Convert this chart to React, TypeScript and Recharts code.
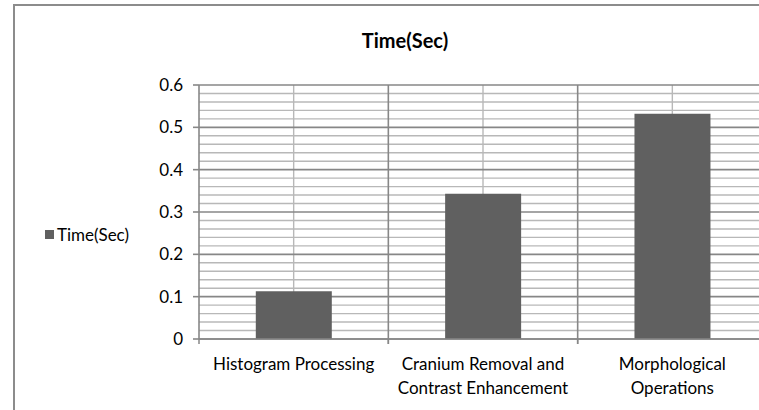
import React from "react";
import { BarChart, Bar, XAxis, YAxis, CartesianGrid } from "recharts";

const categories = [
  "Histogram Processing",
  "Cranium Removal and\nContrast Enhancement",
  "Morphological\nOperations",
];
const times = [0.113, 0.343, 0.532];
const yTicks = [0, 0.1, 0.2, 0.3, 0.4, 0.5, 0.6];
const yMinor = [0.02, 0.04, 0.06, 0.08, 0.12, 0.14, 0.16, 0.18, 0.22, 0.24, 0.26, 0.28,
  0.32, 0.34, 0.36, 0.38, 0.42, 0.44, 0.46, 0.48, 0.52, 0.54, 0.56, 0.58];
const seriesName = "Time(Sec)";

const data = categories.map((c, i) => ({ name: c, value: times[i] }));

const FONT = "Lato, 'Open Sans', sans-serif";
const MAJOR = "#878787";
const MINOR = "#b8b8b8";
const BAR = "#606060";

// band centres and band edges, from the plot offset and category count
const centres = ({ offset }: any) =>
  categories.map((_, i) => offset.left + ((i + 0.5) * offset.width) / categories.length);
const edges = ({ offset }: any) =>
  categories.map((_, i) => offset.left + ((i + 1) * offset.width) / categories.length);

const CategoryTick = (props: any) => {
  const { x, y, payload, width, visibleTicksCount } = props;
  const band = width / visibleTicksCount;
  const lines = String(payload.value).split("\n");
  return (
    <g>
      <line x1={x - band / 2} x2={x - band / 2} y1={y} y2={y + 5} stroke={MAJOR} strokeWidth={1.5} />
      <line x1={x + band / 2} x2={x + band / 2} y1={y} y2={y + 5} stroke={MAJOR} strokeWidth={1.5} />
      {lines.map((l, i) => (
        <text key={i} x={x} y={y + 24 + i * 24} textAnchor="middle" dominantBaseline="central"
          fontFamily={FONT} fontSize={17} fill="#000">
          {l}
        </text>
      ))}
    </g>
  );
};

export default function App() {
  return (
    <div style={{ position: "fixed", left: 0, top: 0, width: 759, height: 410, overflow: "hidden", background: "#fff" }}>
      <div style={{ position: "absolute", left: 13, top: 4, width: 784, height: 520, border: "2px solid #8c8c8c", boxSizing: "border-box" }} />
      <div style={{ position: "absolute", left: 0, top: 0 }}>
        <BarChart width={800} height={470} data={data} margin={{ top: 85, right: 33, left: 139, bottom: 61 }}
          barCategoryGap="30%">
          <CartesianGrid horizontalValues={yMinor} verticalCoordinatesGenerator={centres} stroke={MINOR}
            strokeWidth={1.4} fill="none" />
          <CartesianGrid horizontalValues={yTicks} verticalCoordinatesGenerator={edges} stroke={MAJOR}
            strokeWidth={1.6} fill="none" />
          <XAxis dataKey="name" height={70} interval={0} tickLine={false} tickSize={0} tickMargin={0}
            axisLine={{ stroke: MAJOR, strokeWidth: 1.6 }} tick={<CategoryTick />} />
          <YAxis width={60} domain={[0, 0.6]} ticks={yTicks} interval={0} tickSize={6} tickMargin={10}
            axisLine={{ stroke: MAJOR, strokeWidth: 1.6 }} tickLine={{ stroke: MAJOR, strokeWidth: 1.6 }}
            tick={{ fontFamily: FONT, fontSize: 17, fill: "#000" }} />
          <Bar dataKey="value" name={seriesName} fill={BAR} isAnimationActive={false} />
        </BarChart>
      </div>
      <div style={{ position: "absolute", left: 370, width: 70, top: 28, fontFamily: FONT, fontWeight: 700,
        fontSize: 20, lineHeight: "24px", whiteSpace: "nowrap", display: "flex", justifyContent: "center" }}>
        {seriesName}
      </div>
      <div style={{ position: "absolute", right: 630, top: 224, height: 20, display: "flex", alignItems: "center",
        fontFamily: FONT, fontSize: 17, whiteSpace: "nowrap" }}>
        <span style={{ width: 9, height: 9, background: BAR, marginRight: 3, display: "inline-block" }} />
        {seriesName}
      </div>
    </div>
  );
}
